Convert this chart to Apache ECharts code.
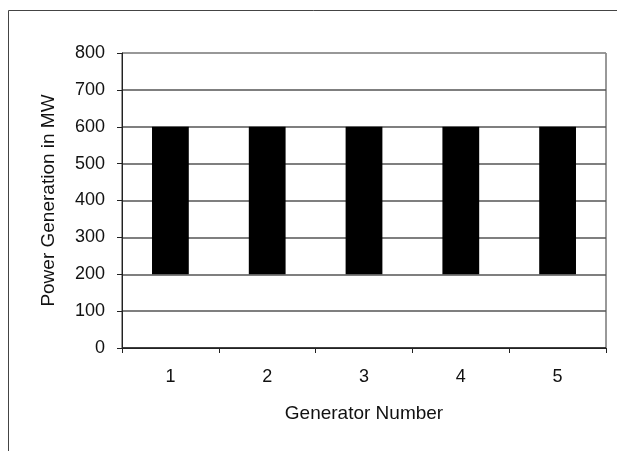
<!DOCTYPE html>
<html>
<head>
<meta charset="utf-8">
<script src="https://cdn.jsdelivr.net/npm/echarts@6/dist/echarts.min.js"></script>
<style>
  html, body { margin: 0; padding: 0; background: #fff; }
  #chart { width: 617px; height: 451px; }
</style>
</head>
<body>
<div id="chart"></div>
<script>
var generators = ['1', '2', '3', '4', '5'];
var minGen = [200, 200, 200, 200, 200];
var maxGen = [600, 600, 600, 600, 600];

var span = maxGen.map(function (v, i) { return v - minGen[i]; });

var myChart = echarts.init(document.getElementById('chart'));
var option = {
  animation: false,
  textStyle: { fontFamily: 'Liberation Sans, Arial, sans-serif' },
  graphic: [{
    type: 'rect',
    shape: { x: 8.5, y: 10.5, width: 700, height: 500 },
    style: { fill: 'none', stroke: '#444', lineWidth: 1 },
    silent: true
  }],
  grid: { left: 122, right: 11, top: 53, bottom: 103, show: true, borderColor: '#333', borderWidth: 1 },
  xAxis: {
    type: 'category',
    data: generators,
    boundaryGap: true,
    name: 'Generator Number',
    nameLocation: 'middle',
    nameGap: 56,
    nameTextStyle: { fontSize: 19, color: '#111' },
    axisLine: { lineStyle: { color: '#222', width: 1 } },
    axisTick: { show: true, length: 5, lineStyle: { color: '#222' } },
    axisLabel: { fontSize: 18, color: '#111', margin: 20 },
    splitLine: { show: false }
  },
  yAxis: {
    type: 'value',
    min: 0,
    max: 800,
    interval: 100,
    name: 'Power Generation in MW',
    nameLocation: 'middle',
    nameGap: 64,
    nameTextStyle: { fontSize: 19, color: '#111' },
    axisLine: { show: true, lineStyle: { color: '#222', width: 1 } },
    axisTick: { show: true, length: 5, lineStyle: { color: '#222' } },
    axisLabel: { fontSize: 18, color: '#111', margin: 17 },
    splitLine: { show: true, lineStyle: { color: ['#222', '#555', '#555', '#555', '#555', '#555', '#555', '#555', '#999'], width: 1.5 } }
  },
  series: [
    {
      type: 'bar',
      stack: 'gen',
      data: minGen,
      itemStyle: { color: 'transparent' },
      barWidth: '38%',
      silent: true
    },
    {
      type: 'bar',
      stack: 'gen',
      data: span,
      itemStyle: { color: '#000' },
      barWidth: '38%'
    }
  ]
};
myChart.setOption(option, true);
</script>
</body>
</html>
